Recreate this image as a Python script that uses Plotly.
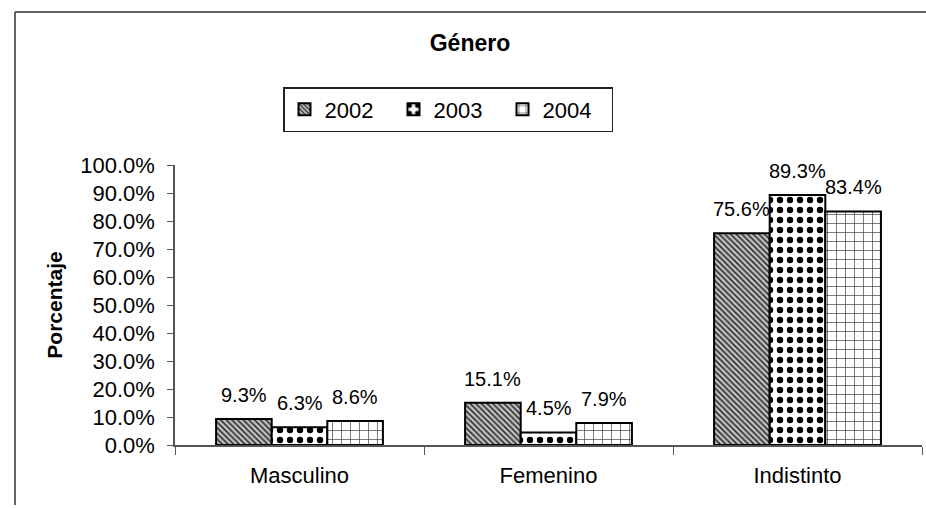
import plotly.graph_objects as go

categories = ["Masculino", "Femenino", "Indistinto"]
series_names = ["2002", "2003", "2004"]
values_2002 = [9.3, 15.1, 75.6]
values_2003 = [6.3, 4.5, 89.3]
values_2004 = [8.6, 7.9, 83.4]
y_ticks = [0, 10, 20, 30, 40, 50, 60, 70, 80, 90, 100]
y_tick_labels = [f"{v:.1f}%" for v in y_ticks]

W, H = 926, 508
ML, MR, MT, MB = 175, 4, 165, 63
BARGAP = 0.33
pw = W - ML - MR
ph = H - MT - MB

def px_x(x):
    return (x - ML) / pw

def px_y(y):
    return (H - MB - y) / ph

FONT = "Arial, Liberation Sans, Helvetica, sans-serif"

patterns = [
    dict(shape="\\", fgcolor="#2e2e2e", bgcolor="#c4c4c4", size=4, solidity=0.42, fgopacity=1),
    dict(shape=".", fgcolor="#000000", bgcolor="#ffffff", size=10, solidity=0.32, fgopacity=1),
    dict(shape="+", fgcolor="#444444", bgcolor="#ffffff", size=9, solidity=0.15, fgopacity=1),
]

all_values = [values_2002, values_2003, values_2004]

fig = go.Figure()
for name, vals, pat in zip(series_names, all_values, patterns):
    fig.add_trace(go.Bar(
        name=name, x=categories, y=vals,
        marker=dict(color=pat["bgcolor"], pattern=pat, line=dict(color="black", width=2)),
    ))

# data labels above each bar (offset within the group derived from bar width)
bar_px = pw / len(categories) * (1 - BARGAP) / len(series_names)
for i, vals in enumerate(all_values):
    shift = (i - (len(series_names) - 1) / 2) * bar_px
    for cat, v in zip(categories, vals):
        fig.add_annotation(
            x=cat, y=v, xref="x", yref="y", text=f"{v:.1f}%",
            showarrow=False, xanchor="center", yanchor="bottom",
            xshift=shift, yshift=11,
            font=dict(family=FONT, size=20, color="black"),
        )

fig.update_layout(
    width=W, height=H,
    margin=dict(l=ML, r=MR, t=MT, b=MB),
    paper_bgcolor="white", plot_bgcolor="white",
    barmode="group", bargap=BARGAP, bargroupgap=0,
    font=dict(family=FONT, size=21, color="black"),
    title=dict(text="<b>Género</b>", x=470 / W, xref="container", xanchor="center",
               y=1 - 43 / H, yref="container", yanchor="middle",
               font=dict(family=FONT, size=23, color="black")),
    legend=dict(orientation="h", x=px_x(448), xanchor="center", y=px_y(132), yanchor="bottom",
                bordercolor="#222222", borderwidth=1.5, bgcolor="white",
                font=dict(family=FONT, size=22, color="black"),
                entrywidth=64, entrywidthmode="pixels",
                traceorder="normal"),
    showlegend=True,
)

fig.update_yaxes(
    range=[0, 100], tickvals=y_ticks, ticktext=y_tick_labels,
    showgrid=False, zeroline=False,
    showline=True, linecolor="#555555", linewidth=1.5,
    ticks="outside", ticklen=6, tickcolor="#555555", ticklabelstandoff=8,
    title=dict(text="<b>Porcentaje</b>", font=dict(family=FONT, size=21, color="black"), standoff=12),
    tickfont=dict(family=FONT, size=22, color="black"),
)
fig.update_xaxes(
    showgrid=False, showline=True, linecolor="#555555", linewidth=1.5,
    ticks="outside", tickson="boundaries", ticklen=8, tickcolor="#555555",
    ticklabelstandoff=10,
    tickfont=dict(family=FONT, size=22, color="black"),
)

# outer chart frame (top and left edges visible in the reference)
fig.add_shape(type="line", xref="paper", yref="paper",
              x0=px_x(15), x1=px_x(926), y0=px_y(12), y1=px_y(12),
              line=dict(color="#333333", width=1.5))
fig.add_shape(type="line", xref="paper", yref="paper",
              x0=px_x(15), x1=px_x(15), y0=px_y(12), y1=px_y(505),
              line=dict(color="#333333", width=1.5))

fig.write_html("out.html", config={"displayModeBar": False},
               post_script="document.body.style.margin='0';document.body.style.overflow='hidden';")
